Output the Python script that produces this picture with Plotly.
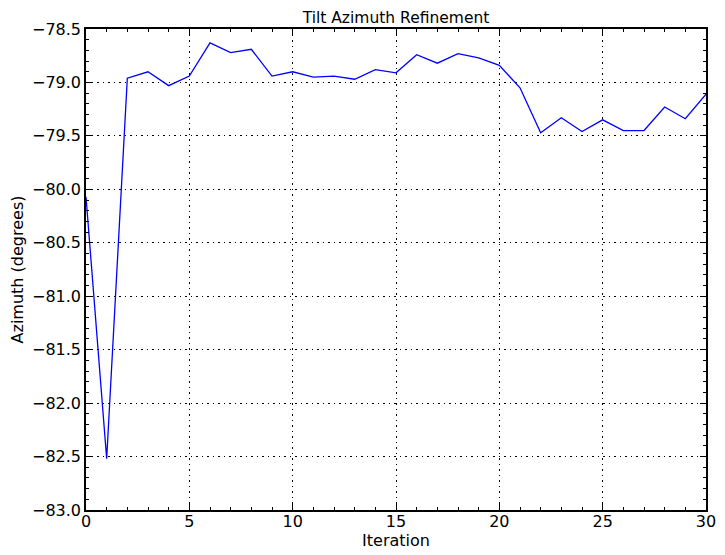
import plotly.graph_objects as go

iterations = list(range(31))
azimuth = [-80.07, -82.52, -78.96, -78.90, -79.03, -78.94, -78.63, -78.72, -78.69, -78.94,
           -78.90, -78.95, -78.94, -78.97, -78.88, -78.91, -78.74, -78.82, -78.73, -78.77,
           -78.84, -79.05, -79.47, -79.33, -79.46, -79.35, -79.45, -79.45, -79.23, -79.34,
           -79.11]

title_text = "Tilt Azimuth Refinement"
x_label = "Iteration"
y_label = "Azimuth (degrees)"

fig = go.Figure(go.Scatter(x=iterations, y=azimuth, mode="lines",
                           line=dict(color="#0000ff", width=1.3)))

axis_common = dict(
    showline=True, linecolor="black", linewidth=1.5, mirror="allticks",
    ticks="inside", ticklen=6, tickwidth=1, tickcolor="black",
    showgrid=True, gridcolor="black", griddash="1.5px,4px", gridwidth=1,
    zeroline=False, tickfont=dict(size=16, color="black"), automargin=False,
)

fig.update_xaxes(range=[0, 30], dtick=5, tick0=0, ticklabelstandoff=-4,
                 minor=dict(dtick=1, ticks="inside", ticklen=3, tickcolor="black", showgrid=False),
                 title=dict(text=x_label, font=dict(size=16, color="black"), standoff=0),
                 **axis_common)
fig.update_yaxes(range=[-83, -78.5], dtick=0.5, tick0=-83, tickformat=".1f",
                 minor=dict(dtick=0.1, ticks="inside", ticklen=3, tickcolor="black", showgrid=False),
                 title=dict(text=y_label, font=dict(size=16, color="black"), standoff=6),
                 **axis_common)

# The page has an 8px body margin, so the figure is sized/margined to land the
# plot area where the reference has it.
fig.update_layout(
    width=717, height=547,
    margin=dict(l=78, r=19, t=21, b=45),
    paper_bgcolor="white", plot_bgcolor="white",
    font=dict(family="DejaVu Sans", color="black"),
    showlegend=False,
    title=dict(text=title_text, x=0.5, xref="paper", xanchor="center",
               y=1, yref="paper", yanchor="bottom", pad=dict(b=6),
               font=dict(size=15.5, color="black"), automargin=False),
)

fig.write_html("out.html")
